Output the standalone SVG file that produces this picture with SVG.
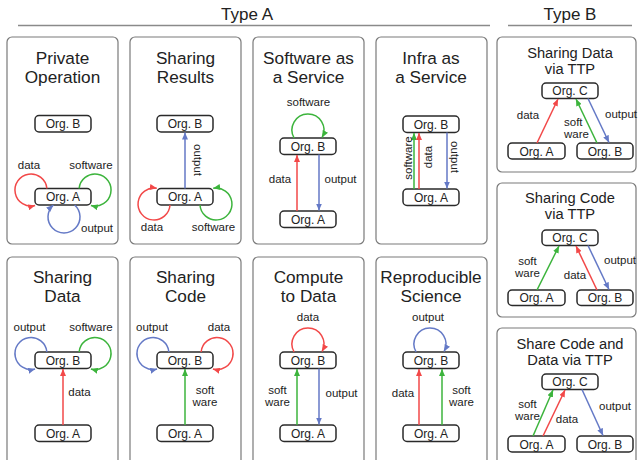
<svg xmlns="http://www.w3.org/2000/svg" width="639" height="460" viewBox="0 0 639 460">
  <style>
    text { font-family: "Liberation Sans", Arial, Helvetica, sans-serif; fill: #222; }
    .hdr { font-size: 17px; text-anchor: middle; }
    .rule { stroke: #8a8a8a; stroke-width: 1.5; }
    .panel { fill: #fff; stroke: #7a7a7a; stroke-width: 1.2; }
    .ttl { font-size: 17.2px; text-anchor: middle; }
    .ttlb { font-size: 14.7px; text-anchor: middle; }
    .org rect { fill: #fff; stroke: #2a2a2a; stroke-width: 1.5; }
    .org text { font-size: 12px; text-anchor: middle; }
    .lbl { font-size: 11.5px; text-anchor: middle; }
    .lbl.left { text-anchor: start; }
    .red { stroke: #f24848; }
    .grn { stroke: #3cb43c; }
    .blu { stroke: #6479c6; }
    .red, .grn, .blu { fill: none; stroke-width: 1.5; }
    .red { marker-end: url(#ah-red); }
    .grn { marker-end: url(#ah-grn); }
    .blu { marker-end: url(#ah-blu); }
  </style>
  <defs>
    <marker id="ah-red" markerUnits="userSpaceOnUse" markerWidth="7" markerHeight="6" refX="7" refY="3" orient="auto"><path d="M0,0 L7,3 L0,6 z" fill="#f24848"/></marker>
    <marker id="ah-grn" markerUnits="userSpaceOnUse" markerWidth="7" markerHeight="6" refX="7" refY="3" orient="auto"><path d="M0,0 L7,3 L0,6 z" fill="#3cb43c"/></marker>
    <marker id="ah-blu" markerUnits="userSpaceOnUse" markerWidth="7" markerHeight="6" refX="7" refY="3" orient="auto"><path d="M0,0 L7,3 L0,6 z" fill="#6479c6"/></marker>
  </defs>

  <rect width="639" height="460" fill="#fff"/>

  <!-- section headers -->
  <text class="hdr" x="247" y="20">Type A</text>
  <line class="rule" x1="18" y1="25.5" x2="490" y2="25.5"/>
  <text class="hdr" x="570" y="20">Type B</text>
  <line class="rule" x1="508" y1="25.5" x2="632" y2="25.5"/>

  <!-- panel frames -->
  <g id="panels">
    <rect class="panel" x="7" y="37" width="111" height="207" rx="5"/>
    <rect class="panel" x="130" y="37" width="111" height="207" rx="5"/>
    <rect class="panel" x="253" y="37" width="111" height="207" rx="5"/>
    <rect class="panel" x="376" y="37" width="111" height="207" rx="5"/>
    <rect class="panel" x="7" y="257" width="111" height="215" rx="5"/>
    <rect class="panel" x="130" y="257" width="111" height="215" rx="5"/>
    <rect class="panel" x="253" y="257" width="111" height="215" rx="5"/>
    <rect class="panel" x="376" y="257" width="111" height="215" rx="5"/>
    <rect class="panel" x="497" y="37" width="139" height="135" rx="5"/>
    <rect class="panel" x="497" y="183" width="139" height="134" rx="5"/>
    <rect class="panel" x="497" y="328" width="139" height="144" rx="5"/>
  </g>

  <!-- panel titles -->
  <g id="titles">
    <text class="ttl" x="62.5" y="63.5">Private<tspan x="62.5" dy="19.3">Operation</tspan></text>
    <text class="ttl" x="185.5" y="63.5">Sharing<tspan x="185.5" dy="19.3">Results</tspan></text>
    <text class="ttl" x="308.5" y="63.5">Software as<tspan x="308.5" dy="19.3">a Service</tspan></text>
    <text class="ttl" x="431" y="63.5">Infra as<tspan x="431" dy="19.3">a Service</tspan></text>
    <text class="ttl" x="62.5" y="282.5">Sharing<tspan x="62.5" dy="19.3">Data</tspan></text>
    <text class="ttl" x="185.5" y="282.5">Sharing<tspan x="185.5" dy="19.3">Code</tspan></text>
    <text class="ttl" x="308.5" y="282.5">Compute<tspan x="308.5" dy="19.3">to Data</tspan></text>
    <text class="ttl" x="431" y="282.5">Reproducible<tspan x="431" dy="19.3">Science</tspan></text>
    <text class="ttlb" x="570" y="57.5">Sharing Data<tspan x="570" dy="16.5">via TTP</tspan></text>
    <text class="ttlb" x="570" y="202.5">Sharing Code<tspan x="570" dy="16.5">via TTP</tspan></text>
    <text class="ttlb" x="570" y="348.5">Share Code and<tspan x="570" dy="16.5">Data via TTP</tspan></text>
  </g>

  <!-- organisation nodes -->
  <g id="p1-orgB" class="org"><rect x="35" y="115.5" width="56" height="16.5" rx="4"/><text x="63" y="128">Org. B</text></g>
  <g id="p1-orgA" class="org"><rect x="35" y="188.5" width="56" height="16.5" rx="4"/><text x="63" y="201">Org. A</text></g>
  <g id="p2-orgB" class="org"><rect x="157" y="115.5" width="56" height="16.5" rx="4"/><text x="185" y="128">Org. B</text></g>
  <g id="p2-orgA" class="org"><rect x="157" y="188.5" width="56" height="16.5" rx="4"/><text x="185" y="201">Org. A</text></g>
  <g id="p3-orgB" class="org"><rect x="280" y="138" width="56" height="16.5" rx="4"/><text x="308" y="150.5">Org. B</text></g>
  <g id="p3-orgA" class="org"><rect x="280" y="211" width="56" height="16.5" rx="4"/><text x="308" y="223.5">Org. A</text></g>
  <g id="p4-orgB" class="org"><rect x="403" y="116" width="56" height="16.5" rx="4"/><text x="431" y="128.5">Org. B</text></g>
  <g id="p4-orgA" class="org"><rect x="403" y="189" width="56" height="16.5" rx="4"/><text x="431" y="201.5">Org. A</text></g>
  <g id="p5-orgB" class="org"><rect x="35" y="352" width="56" height="16.5" rx="4"/><text x="63" y="364.5">Org. B</text></g>
  <g id="p5-orgA" class="org"><rect x="35" y="425" width="56" height="16.5" rx="4"/><text x="63" y="437.5">Org. A</text></g>
  <g id="p6-orgB" class="org"><rect x="157" y="352" width="56" height="16.5" rx="4"/><text x="185" y="364.5">Org. B</text></g>
  <g id="p6-orgA" class="org"><rect x="157" y="425" width="56" height="16.5" rx="4"/><text x="185" y="437.5">Org. A</text></g>
  <g id="p7-orgB" class="org"><rect x="280" y="352" width="56" height="16.5" rx="4"/><text x="308" y="364.5">Org. B</text></g>
  <g id="p7-orgA" class="org"><rect x="280" y="425" width="56" height="16.5" rx="4"/><text x="308" y="437.5">Org. A</text></g>
  <g id="p8-orgB" class="org"><rect x="403" y="352" width="56" height="16.5" rx="4"/><text x="431" y="364.5">Org. B</text></g>
  <g id="p8-orgA" class="org"><rect x="403" y="425" width="56" height="16.5" rx="4"/><text x="431" y="437.5">Org. A</text></g>
  <g id="b1-orgC" class="org"><rect x="542" y="83" width="56" height="15.5" rx="4"/><text x="570" y="95">Org. C</text></g>
  <g id="b1-orgA" class="org"><rect x="508" y="143" width="57" height="16" rx="4"/><text x="536.5" y="155.5">Org. A</text></g>
  <g id="b1-orgB" class="org"><rect x="577" y="143" width="56" height="16" rx="4"/><text x="605" y="155.5">Org. B</text></g>
  <g id="b2-orgC" class="org"><rect x="542" y="230" width="56" height="15.5" rx="4"/><text x="570" y="242">Org. C</text></g>
  <g id="b2-orgA" class="org"><rect x="508" y="290" width="57" height="15.5" rx="4"/><text x="536.5" y="302">Org. A</text></g>
  <g id="b2-orgB" class="org"><rect x="577" y="290" width="56" height="15.5" rx="4"/><text x="605" y="302">Org. B</text></g>
  <g id="b3-orgC" class="org"><rect x="542" y="374" width="56" height="15.5" rx="4"/><text x="570" y="386">Org. C</text></g>
  <g id="b3-orgA" class="org"><rect x="508" y="436" width="57" height="16" rx="4"/><text x="536.5" y="448.5">Org. A</text></g>
  <g id="b3-orgB" class="org"><rect x="577" y="436" width="56" height="16" rx="4"/><text x="605" y="448.5">Org. B</text></g>

  <!-- connectors: flows between and within organisations -->
  <g id="connectors">
    <!-- Private Operation -->
    <path class="red" d="M46.9,188.5 A16,16 0 1 0 35.1,205.5"/>
    <path class="grn" d="M79.1,188.5 A16,16 0 1 1 90.9,205.5"/>
    <path class="blu" d="M74.6,205 A16,16 0 1 1 53.4,205"/>
    <text class="lbl" x="29" y="169">data</text>
    <text class="lbl" x="91" y="169">software</text>
    <text class="lbl" x="97" y="232">output</text>

    <!-- Sharing Results -->
    <path class="blu" d="M185,188.5 V132.5"/>
    <path class="red" d="M170,205 A16,16 0 1 1 156.8,188.2"/>
    <path class="grn" d="M200,205 A16,16 0 1 0 213.2,188.2"/>
    <text class="lbl" transform="translate(197.5,160) rotate(90)" y="4">output</text>
    <text class="lbl" x="152" y="231">data</text>
    <text class="lbl" x="213.5" y="231">software</text>

    <!-- Software as a Service -->
    <path class="grn" d="M294.1,138 A16,16 0 1 1 322.1,137.5"/>
    <path class="red" d="M297,211 V155"/>
    <path class="blu" d="M319,154.5 V210.5"/>
    <text class="lbl" x="308.5" y="106">software</text>
    <text class="lbl" x="280" y="183">data</text>
    <text class="lbl" x="340.5" y="183">output</text>

    <!-- Infra as a Service -->
    <path class="grn" d="M414,189 V133"/>
    <path class="red" d="M419,189 V133"/>
    <path class="blu" d="M447,132.5 V188.5"/>
    <text class="lbl" transform="translate(408,158) rotate(-90)" y="4">software</text>
    <text class="lbl" transform="translate(428,157) rotate(-90)" y="4">data</text>
    <text class="lbl" transform="translate(455,157) rotate(90)" y="4">output</text>

    <!-- Sharing Data -->
    <path class="blu" d="M46.9,352 A16,16 0 1 0 35.1,369"/>
    <path class="grn" d="M79.1,352 A16,16 0 1 1 90.9,369"/>
    <path class="red" d="M63,425 V369"/>
    <text class="lbl" x="29.5" y="331">output</text>
    <text class="lbl" x="91" y="331">software</text>
    <text class="lbl" x="79.5" y="396">data</text>

    <!-- Sharing Code -->
    <path class="blu" d="M168.9,352 A16,16 0 1 0 157.1,369"/>
    <path class="red" d="M201.1,352 A16,16 0 1 1 212.9,369"/>
    <path class="grn" d="M185,425 V369"/>
    <text class="lbl" x="152" y="331">output</text>
    <text class="lbl" x="219" y="331">data</text>
    <text class="lbl" x="205" y="394">soft<tspan x="205" dy="12">ware</tspan></text>

    <!-- Compute to Data -->
    <path class="red" d="M294.1,352 A16,16 0 1 1 322.1,351.5"/>
    <path class="grn" d="M297,425 V369"/>
    <path class="blu" d="M319,368.5 V424.5"/>
    <text class="lbl" x="308" y="321">data</text>
    <text class="lbl" x="277.5" y="394">soft<tspan x="277.5" dy="12">ware</tspan></text>
    <text class="lbl" x="341.5" y="397">output</text>

    <!-- Reproducible Science -->
    <path class="blu" d="M416.1,352 A16,16 0 1 1 444.1,351.5"/>
    <path class="red" d="M419,425 V369"/>
    <path class="grn" d="M442,425 V369"/>
    <text class="lbl" x="428" y="321">output</text>
    <text class="lbl" x="403" y="397">data</text>
    <text class="lbl" x="461.5" y="394">soft<tspan x="461.5" dy="12">ware</tspan></text>

    <!-- Sharing Data via TTP -->
    <path class="red" d="M537,143 L558,99"/>
    <path class="grn" d="M597,143 L576,99"/>
    <path class="blu" d="M588,98.5 L609,142.5"/>
    <text class="lbl" x="528" y="119">data</text>
    <text class="lbl left" x="564" y="126">soft<tspan x="564" dy="12">ware</tspan></text>
    <text class="lbl" x="621" y="118">output</text>

    <!-- Sharing Code via TTP -->
    <path class="grn" d="M537,290 L559,246"/>
    <path class="red" d="M597,290 L576,246"/>
    <path class="blu" d="M588,245.5 L609,289.5"/>
    <text class="lbl" x="527.5" y="265">soft<tspan x="527.5" dy="12">ware</tspan></text>
    <text class="lbl" x="575" y="279">data</text>
    <text class="lbl" x="620" y="264">output</text>

    <!-- Share Code and Data via TTP -->
    <path class="grn" d="M533,436 L553,390"/>
    <path class="red" d="M543,436 L565,390"/>
    <path class="blu" d="M582,389.5 L603,435.5"/>
    <text class="lbl" x="527.5" y="408">soft<tspan x="527.5" dy="11.5">ware</tspan></text>
    <text class="lbl" x="567" y="423">data</text>
    <text class="lbl" x="615" y="410">output</text>
  </g>
</svg>
